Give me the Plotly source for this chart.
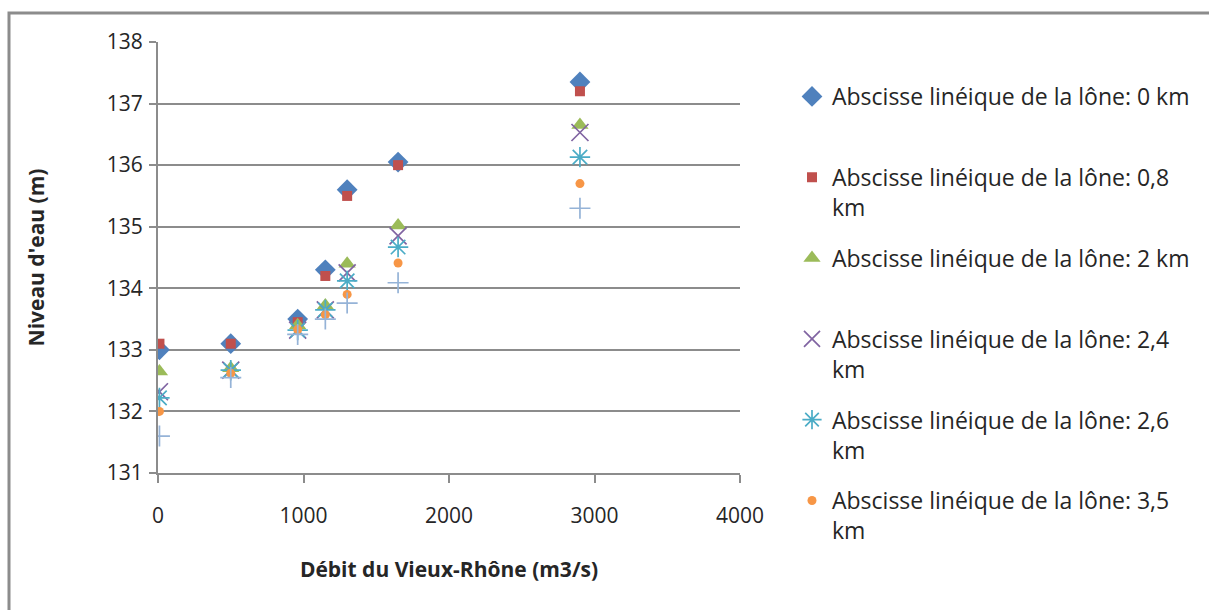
import plotly.graph_objects as go

# Débit du Vieux-Rhône (m3/s)
debit = [10, 500, 960, 1150, 1300, 1650, 2900]

# Niveau d'eau (m) for each abscissa along the lône
niveau_0km = [133.0, 133.1, 133.5, 134.3, 135.6, 136.05, 137.35]
niveau_0_8km = [133.1, 133.1, 133.45, 134.2, 135.5, 136.0, 137.2]
niveau_2km = [132.65, 132.7, 133.4, 133.72, 134.4, 135.02, 136.65]
niveau_2_4km = [132.32, 132.67, 133.32, 133.65, 134.25, 134.85, 136.53]
niveau_2_6km = [132.22, 132.67, 133.32, 133.65, 134.12, 134.67, 136.13]
niveau_3_5km = [132.0, 132.62, 133.33, 133.57, 133.9, 134.41, 135.7]
niveau_4km = [131.6, 132.55, 133.25, 133.5, 133.76, 134.09, 135.3]

series = [
    ("Abscisse linéique de la lône: 0 km", niveau_0km, "diamond", "#4F81BD", 16, True),
    ("Abscisse linéique de la lône: 0,8<br>km", niveau_0_8km, "square", "#C0504D", 10, True),
    ("Abscisse linéique de la lône: 2 km", niveau_2km, "triangle-up", "#9BBB59", 15, True),
    ("Abscisse linéique de la lône: 2,4<br>km", niveau_2_4km, "x-thin", "#8064A2", 17, True),
    ("Abscisse linéique de la lône: 2,6<br>km", niveau_2_6km, "asterisk", "#4BACC6", 17, True),
    ("Abscisse linéique de la lône: 3,5<br>km", niveau_3_5km, "circle", "#F79646", 9, True),
    ("Abscisse linéique de la lône: 4 km", niveau_4km, "cross-thin", "#95B3D7", 15, False),
]

fig = go.Figure()
for i, (name, y, symbol, color, size, show) in enumerate(series):
    label = name if "<br>" in name else name + "<br>\u00a0"
    thin = symbol in ("x-thin", "cross-thin", "asterisk")
    fig.add_trace(go.Scatter(
        x=debit, y=y, mode="markers", name=label,
        legendgroup=f"g{i}", showlegend=show,
        marker=dict(symbol=symbol, size=size, color=color,
                    line=dict(color=color, width=1.7 if thin else 0)),
    ))

# plot area in pixels: x 158..740, y 42..473
L, R, T, B = 158, 740, 42, 473
W, H = 1209, 610

def px_x(p):
    return (p - L) / (R - L)

def px_y(p):
    return (B - p) / (B - T)

fig.add_shape(type="rect", xref="paper", yref="paper",
              x0=px_x(9), x1=px_x(1230), y0=px_y(13), y1=px_y(640),
              line=dict(color="#8C8C8C", width=3), layer="below")

grid = "#8C8C8C"
txt = "#262626"
fig.update_layout(
    width=W, height=H,
    margin=dict(l=L, r=W - R, t=T, b=H - B),
    paper_bgcolor="white", plot_bgcolor="white",
    font=dict(family="Open Sans", size=21, color=txt),
    showlegend=True,
    legend=dict(
        x=px_x(792), y=px_y(75), xanchor="left", yanchor="top",
        font=dict(family="Open Sans", size=23, color=txt),
        valign="top", traceorder="grouped", tracegroupgap=18,
        itemsizing="trace", bgcolor="rgba(0,0,0,0)",
        maxheight=600,
    ),
    xaxis=dict(
        range=[0, 4000], tickvals=[0, 1000, 2000, 3000, 4000],
        showgrid=False, zeroline=False,
        showline=True, linecolor=grid, linewidth=2,
        ticks="outside", ticklen=8, tickcolor=grid, tickwidth=2,
        ticklabelstandoff=15,
        tickfont=dict(size=21, color=txt),
        title=dict(text="<b>Débit du Vieux-Rhône (m3/s)</b>", standoff=34,
                   font=dict(size=21, color=txt)),
    ),
    yaxis=dict(
        range=[131, 138], dtick=1,
        showgrid=True, gridcolor=grid, gridwidth=2, zeroline=False,
        showline=True, linecolor=grid, linewidth=2,
        ticks="outside", ticklen=7, tickcolor=grid, tickwidth=2,
        ticklabelstandoff=2,
        tickfont=dict(size=21, color=txt),
        title=dict(text="<b>Niveau d'eau (m)</b>", standoff=56,
                   font=dict(size=21, color=txt)),
    ),
)

fig.write_html("out.html")
